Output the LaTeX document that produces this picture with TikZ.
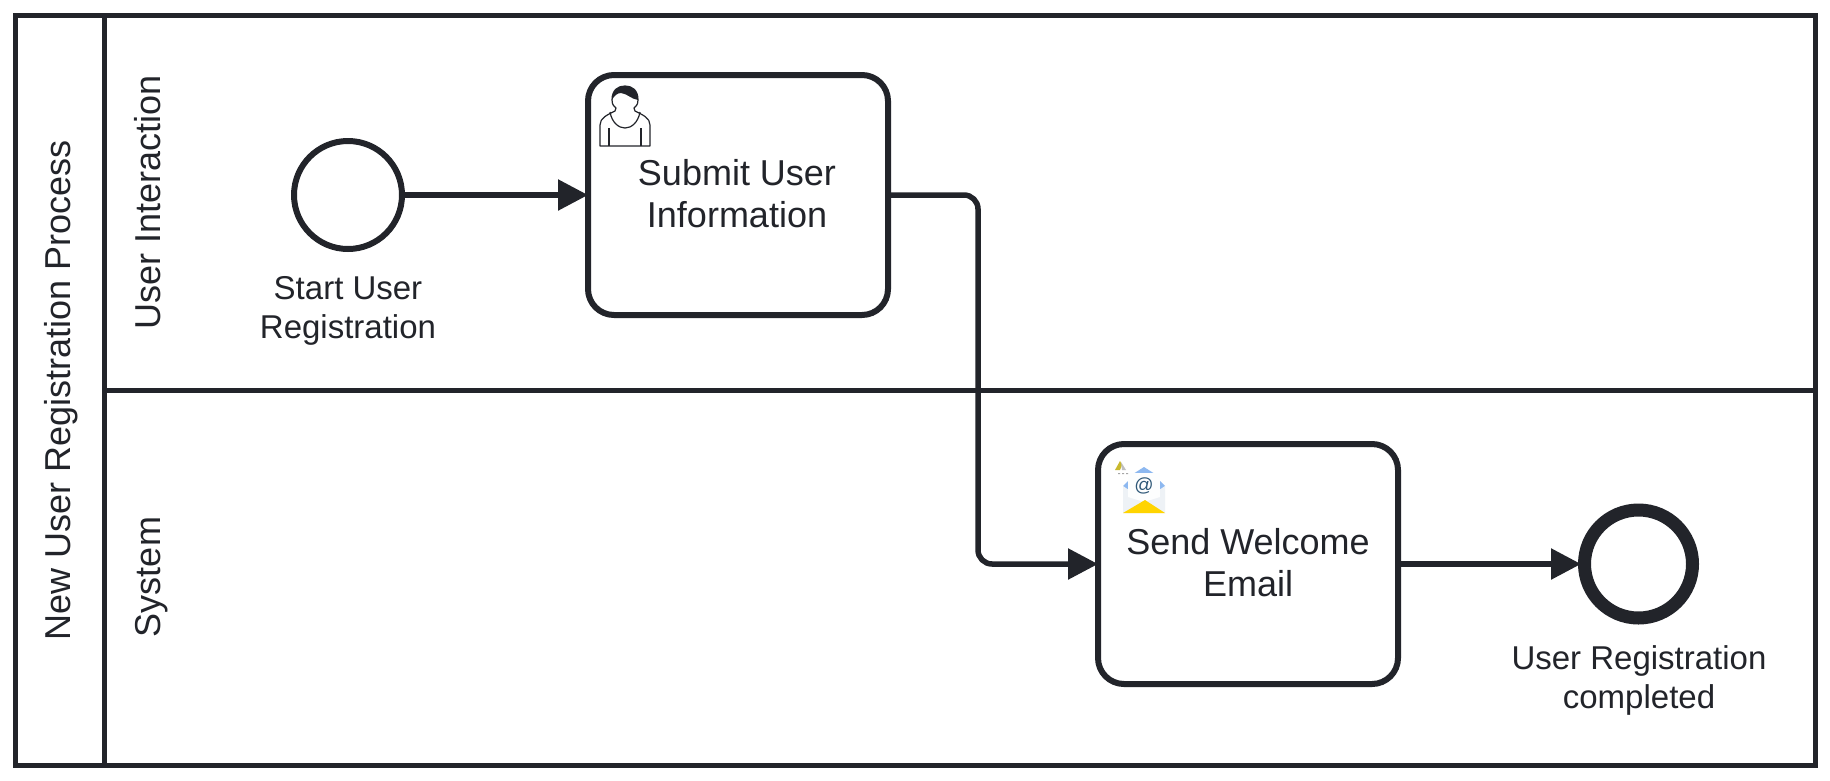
\documentclass[tikz,border=0pt]{standalone}
\usepackage{fontspec}
\setmainfont{Liberation Sans}
\usetikzlibrary{arrows.meta,calc}
\definecolor{ink}{HTML}{22242A}
\definecolor{mailwhite}{HTML}{EEF2F6}
\definecolor{mailblue}{HTML}{8DB8F0}
\definecolor{mailyellow}{HTML}{FFD400}
\definecolor{mailat}{HTML}{2F5878}
\definecolor{markyellow}{HTML}{C9B92E}
\tikzset{
  x=1pt,y=-1pt,
  frame/.style={draw=ink,line width=5pt,fill=white},
  sep/.style={draw=ink,line width=5pt},
  task/.style={draw=ink,line width=6pt,fill=white,rounded corners=26pt,minimum width=300pt,minimum height=240pt,inner sep=0pt},
  startev/.style={circle,draw=ink,line width=6pt,fill=white,minimum size=108pt,inner sep=0pt},
  endev/.style={circle,draw=ink,line width=13pt,fill=white,minimum size=108pt,inner sep=0pt},
  flow/.style={draw=ink,line width=5.5pt,rounded corners=14pt,shorten >=-3pt,-{Triangle[length=30pt,width=30pt]}},
  lbl/.style={font=\fontsize{33}{39}\selectfont,text=ink,align=center,inner sep=0pt},
  tasktxt/.style={font=\fontsize{36}{42}\selectfont,text=ink,align=center,inner sep=0pt},
  lane/.style={font=\fontsize{36}{40}\selectfont,text=ink,rotate=90,inner sep=0pt,anchor=base},
  icon/.style={draw=ink,line width=1.2pt,fill=white,line join=round}
}
\begin{document}
\begin{tikzpicture}
\useasboundingbox (0,0) rectangle (1830,780);
\fill[white] (0,0) rectangle (1830,780);
\draw[frame] (15,15) rectangle (1815,765);
\coordinate (laneL) at (104.5,15);
\coordinate (laneLb) at (104.5,765);
\coordinate (divL) at (104.5,390);
\coordinate (divR) at (1815,390);
\draw[sep] (laneL) -- (laneLb);
\draw[sep] (divL) -- (divR);
\node[lane] (pool) at (70,390) {New User Registration Process};
\node[lane] (lane1) at (160,202) {User Interaction};
\node[lane] (lane2) at (160,577) {System};
\node[startev] (start) at (348,195) {};
\node[lbl,anchor=north] (startlbl) at (348,276) {Start User\\Registration};
\node[task] (t1) at (738,195) {};
\node[tasktxt] (t1txt) at (737,194) {Submit User\\Information};
\node[task] (t2) at (1248,564) {};
\node[tasktxt] (t2txt) at (1248,563) {Send Welcome\\Email};
\node[endev] (end) at (1638.5,564) {};
\node[lbl,anchor=north] (endlbl) at (1639,645) {User Registration\\completed};
\draw[flow] (start) -- (t1);
\draw[flow] (t1.east) -- ++(87,0) -- ($(t1.east)+(87,369)$) -- (t2.west);
\draw[flow] (t2) -- (end);
% user icon
\begin{scope}[shift={(625,114)}]
\draw[icon] (-25,32) -- (-25,11) .. controls (-25,4) and (-18,1) .. (-10,-3) .. controls (-10,-5) and (-9,-5) .. (-9,-6)
  .. controls (-13,-9) and (-13,-12) .. (-13,-14) .. controls (-13,-24) and (-7,-28) .. (0,-28) .. controls (7,-28) and (13,-24) .. (13,-14)
  .. controls (13,-12) and (13,-9) .. (9,-6) .. controls (9,-5) and (10,-5) .. (10,-3)
  .. controls (18,1) and (25,4) .. (25,11) -- (25,32) -- cycle;
\draw[icon,fill=none] (-15,-2) .. controls (-13,9) and (-6,14) .. (0,14) .. controls (6,14) and (13,9) .. (15,-2);
\draw[icon,fill=none] (-16,14) -- (-16,32) (16,14) -- (16,32);
\fill[ink] (-13,-14) .. controls (-13,-24) and (-7,-28) .. (0,-28) .. controls (7,-28) and (13,-24) .. (13,-14) .. controls (6,-15) and (3,-20) .. (-4,-21) .. controls (-8,-21) and (-11,-18) .. (-13,-14) -- cycle;
\end{scope}
% mail icon
\begin{scope}[shift={(1144,494)}]
\fill[mailblue] (-11,-20) -- (0,-27) -- (11,-20) -- cycle;
\fill[mailblue] (-21,-8) -- (-16,-13) -- (-16,0) -- cycle;
\fill[mailblue] (21,-8) -- (16,-13) -- (16,0) -- cycle;
\fill[mailwhite] (-21,-8) -- (-21,19) -- (21,19) -- (21,-8) -- (0,6) -- cycle;
\fill[white!90!mailwhite] (-16,-21) rectangle (16,3);
\fill[white!90!mailwhite] (-16,3) -- (16,3) -- (0,8) -- cycle;
\node[text=mailat,font=\fontsize{19}{19}\selectfont,inner sep=0pt] (at) at (0,-8) {@};
\fill[mailyellow] (-21,19) -- (1,6) -- (21,19) -- cycle;
\end{scope}
\fill[markyellow] (1115,470) -- (1120,461) -- (1122,465) -- (1120,470) -- cycle;
\fill[gray!50] (1121,462) -- (1126,470) -- (1122,470) -- cycle;
\fill[gray!70] (1118,473) rectangle (1120,474) (1122,473) rectangle (1124,474) (1126,473) rectangle (1128,474);
\end{tikzpicture}
\end{document}
